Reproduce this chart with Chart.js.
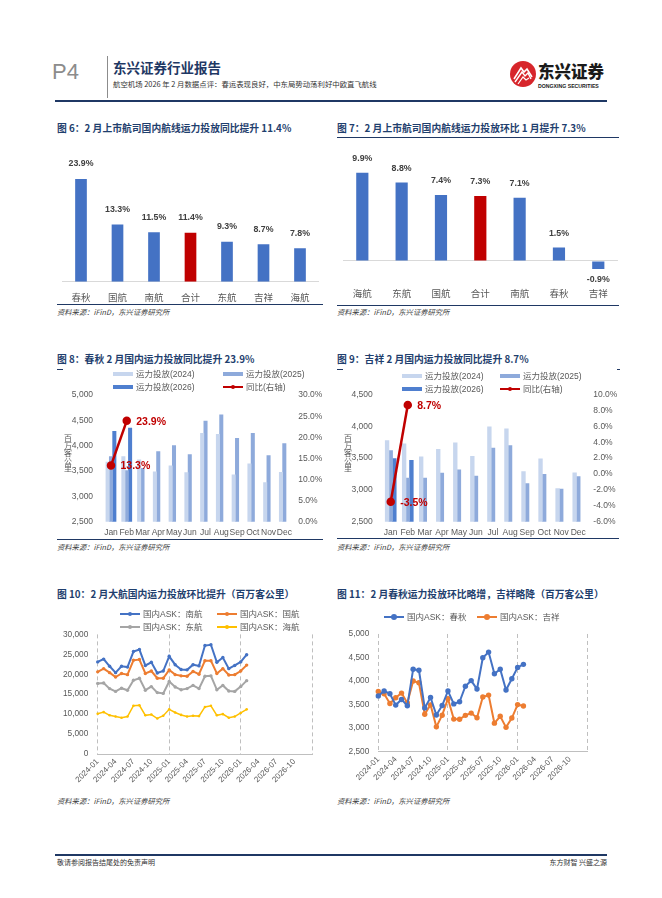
<!DOCTYPE html>
<html>
<head>
<meta charset="utf-8">
<script src="https://cdn.jsdelivr.net/npm/chart.js@4.4.1/dist/chart.umd.min.js"></script>
<style>
  body { margin: 0; background: #fff; }
  #page { position: relative; width: 662px; height: 898px; overflow: hidden; font-family: "Noto Sans CJK SC", sans-serif; }
  .abs { position: absolute; white-space: nowrap; }
  .ttl { font-size: 9.8px; font-weight: bold; color: #1f3f6e; line-height: 12px; }
  .src { font-size: 7.3px; font-style: italic; color: #404040; line-height: 10px; }
  .rule { position: absolute; background: #1f3864; height: 1px; }
  .box { position: absolute; }
  .lgt { position: absolute; font-family: "Liberation Sans", "Noto Sans CJK SC", sans-serif; font-size: 8.5px; color: #595959; line-height: 10px; white-space: nowrap; }
  .vt { position: absolute; font-size: 8px; color: #595959; line-height: 7.6px; width: 10px; text-align: center; }
</style>
</head>
<body>
<div id="page">
  <!-- header -->
  <div class="abs" style="left:52px;top:60px;font-family:'Liberation Sans',sans-serif;font-size:22px;line-height:24px;color:#8c8c8c;">P4</div>
  <div class="abs" style="left:107px;top:56px;width:1px;height:42px;background:#8c8c8c;"></div>
  <div class="abs" style="left:113px;top:59px;font-size:13.5px;line-height:16px;font-weight:bold;color:#1f3864;">东兴证券行业报告</div>
  <div class="abs" style="left:113px;top:79px;font-size:7.4px;line-height:10px;color:#333;">航空机场 2026 年 2 月数据点评：春运表现良好，中东局势动荡利好中欧直飞航线</div>
  <svg class="abs" style="left:509px;top:60px;" width="28" height="28" viewBox="0 0 28 28">
    <circle cx="14" cy="14" r="13" fill="#d7262b"/>
    <path d="M5 19 L12 8 L15 12 L18 9 L23 17" stroke="#fff" stroke-width="1.6" fill="none"/>
    <path d="M6 22 L13 12 L16 16 L19 13 L22 19" stroke="#fff" stroke-width="1.4" fill="none"/>
    <path d="M9 24 L14 17 L17 20 L20 18" stroke="#fff" stroke-width="1.2" fill="none"/>
  </svg>
  <div class="abs" style="left:538px;top:62px;font-size:16.5px;line-height:18px;font-weight:900;color:#1a1a1a;">东兴证券</div>
  <div class="abs" style="left:538px;top:83px;font-family:'Liberation Sans',sans-serif;font-size:5.2px;line-height:7px;font-weight:bold;color:#1a1a1a;">DONGXING SECURITIES</div>
  <div class="abs" style="left:55px;top:100px;width:552px;height:2px;background:#1f3864;"></div>

  <!-- titles -->
  <div class="abs ttl" style="left:57px;top:122px;">图 6：2 月上市航司国内航线运力投放同比提升 11.4%</div>
  <div class="abs ttl" style="left:337px;top:122px;">图 7：2 月上市航司国内航线运力投放环比 1 月提升 7.3%</div>
  <div class="rule" style="left:337px;top:137px;width:282px;"></div>
  <div class="rule" style="left:57px;top:304px;width:266px;"></div>
  <div class="rule" style="left:337px;top:305px;width:282px;"></div>
  <div class="abs src" style="left:57px;top:307px;">资料来源：iFinD，东兴证券研究所</div>
  <div class="abs src" style="left:337px;top:307px;">资料来源：iFinD，东兴证券研究所</div>

  <div class="abs ttl" style="left:57px;top:353px;">图 8：春秋 2 月国内运力投放同比提升 23.9%</div>
  <div class="abs ttl" style="left:337px;top:353px;">图 9：吉祥 2 月国内运力投放同比提升 8.7%</div>
  <div class="rule" style="left:57px;top:369px;width:6px;"></div>
  <div class="rule" style="left:337px;top:369px;width:6px;"></div>
  <div class="rule" style="left:617px;top:369px;width:3px;"></div>
  <div class="rule" style="left:57px;top:539px;width:266px;"></div>
  <div class="rule" style="left:337px;top:538px;width:282px;"></div>
  <div class="abs src" style="left:57px;top:542px;">资料来源：iFinD，东兴证券研究所</div>
  <div class="abs src" style="left:337px;top:542px;">资料来源：iFinD，东兴证券研究所</div>

  <div class="abs ttl" style="left:57px;top:588px;">图 10：2 月大航国内运力投放环比提升（百万客公里）</div>
  <div class="abs ttl" style="left:337px;top:588px;">图 11：2 月春秋运力投放环比略增，吉祥略降（百万客公里）</div>
  <div class="abs src" style="left:57px;top:796px;">资料来源：iFinD，东兴证券研究所</div>
  <div class="abs src" style="left:337px;top:796px;">资料来源：iFinD，东兴证券研究所</div>

  <!-- chart boxes -->
  <div class="box" style="left:57px;top:140px;width:265px;height:165px;"><canvas id="c6"></canvas></div>
  <div class="box" style="left:337px;top:140px;width:282px;height:165px;"><canvas id="c7"></canvas></div>
  <div class="box" style="left:57px;top:380px;width:265px;height:160px;"><canvas id="c8"></canvas></div>
  <div class="box" style="left:337px;top:380px;width:282px;height:160px;"><canvas id="c9"></canvas></div>
  <div class="box" style="left:57px;top:620px;width:265px;height:180px;"><canvas id="c10"></canvas></div>
  <div class="box" style="left:337px;top:620px;width:282px;height:180px;"><canvas id="c11"></canvas></div>

  <div class="vt" style="left:63px;top:434px;">百<br>万<br>客<br>公<br>里</div>
  <div class="vt" style="left:343px;top:434px;">百<br>万<br>客<br>公<br>里</div>

  <!-- footer -->
  <div class="abs" style="left:55px;top:854px;width:552px;height:1.5px;background:#1f3864;"></div>
  <div class="abs" style="left:57px;top:858px;font-size:7px;line-height:9px;color:#333;">敬请参阅报告结尾处的免责声明</div>
  <div class="abs" style="right:55px;top:858px;font-size:7px;line-height:9px;color:#333;">东方财智 兴盛之源</div>
</div>

<script>
// ---- data ----
const airlines6 = ['春秋', '国航', '南航', '合计', '东航', '吉祥', '海航'];
const yoy6 = [23.9, 13.3, 11.5, 11.4, 9.3, 8.7, 7.8];

const airlines7 = ['海航', '东航', '国航', '合计', '南航', '春秋', '吉祥'];
const mom7 = [9.9, 8.8, 7.4, 7.3, 7.1, 1.5, -0.9];

const months = ['Jan', 'Feb', 'Mar', 'Apr', 'May', 'Jun', 'Jul', 'Aug', 'Sep', 'Oct', 'Nov', 'Dec'];

// 春秋 domestic ASK (百万客公里)
const spring2024 = [3685, 3790, 3730, 3490, 3610, 3475, 4250, 4230, 3430, 3650, 3280, 3480];
const spring2025 = [3790, 3515, 3560, 3890, 4010, 3830, 4495, 4615, 4155, 4250, 3810, 4050];
const spring2026 = [4290, 4355];
const springYoy = [13.3, 23.9];

// 吉祥 domestic ASK
const juneyao2024 = [3780, 3730, 3525, 3645, 3745, 3535, 4000, 3965, 3295, 3495, 3028, 3275];
const juneyao2025 = [3625, 3192, 3190, 3272, 3320, 3222, 3662, 3702, 3106, 3252, 3017, 3215];
const juneyao2026 = [3500, 3470];
const juneyaoYoy = [-3.5, 8.7];

// big three + 海航, 2024-01 .. 2026-02
const csaAsk = [23100, 23800, 22000, 20400, 22000, 21800, 25700, 26200, 22200, 23000, 20300, 20800,
                24500, 22400, 21200, 21100, 22400, 22100, 27200, 27400, 23000, 24200, 21400, 22200,
                23100, 24900];
const airChinaAsk = [20600, 21400, 20400, 19300, 20200, 19900, 23500, 23700, 20200, 20800, 19000, 19000,
                     21100, 19900, 19600, 19500, 20700, 20000, 23400, 23400, 20200, 21400, 19800, 19900,
                     20800, 22300];
const easternAsk = [17700, 17800, 16400, 15700, 16500, 16000, 18500, 19000, 16000, 16900, 15400, 15200,
                    18200, 16800, 16100, 16400, 17200, 16400, 19500, 19600, 16100, 17200, 15800, 15700,
                    16900, 18400];
const hainanAsk = [10100, 10500, 9700, 9400, 9100, 9400, 12100, 12200, 9700, 9900, 8900, 9600,
                   11200, 10400, 9800, 9400, 9600, 9500, 11800, 12100, 9700, 10000, 9100, 9400,
                   10300, 11200];

// monthly axis 2024-01 .. 2027-01
const monthAxis = [];
['2024', '2025', '2026'].forEach(y => {
  for (let m = 1; m <= 12; m++) monthAxis.push(y + '-' + String(m).padStart(2, '0'));
});
monthAxis.push('2027-01');

// ---- colours ----
const BLUE = '#4472c4', RED = '#c00000', ORANGE = '#ed7d31', GREY = '#a5a5a5', GOLD = '#ffc000';
const C24 = '#c7d6ee', C25 = '#8eaadb', C26 = '#4f7fcf';
const LATIN = '"Liberation Sans", "Noto Sans CJK SC", sans-serif';
const CJK = '"Noto Sans CJK SC", sans-serif';

Chart.defaults.font.family = LATIN;
Chart.defaults.color = '#595959';
Chart.defaults.animation = false;
Chart.defaults.plugins.legend.display = false;
Chart.defaults.plugins.tooltip.enabled = false;

// draws value labels for given datasets
function valueLabels(specs) {
  return {
    id: 'valueLabels',
    afterDatasetsDraw(chart) {
      const ctx = chart.ctx;
      specs.forEach(s => {
        const meta = chart.getDatasetMeta(s.dataset);
        const data = chart.data.datasets[s.dataset].data;
        ctx.save();
        ctx.font = s.font;
        ctx.fillStyle = s.color;
        ctx.textAlign = s.align || 'center';
        ctx.textBaseline = 'middle';
        meta.data.forEach((el, i) => {
          const v = data[i];
          if (v == null) return;
          const p = s.place(el, v);
          ctx.fillText(v.toFixed(1) + '%', p.x, p.y);
        });
        ctx.restore();
      });
    }
  };
}

// html legend entries
function legendItem(x, y, kind, color, text) {
  const page = document.getElementById('page');
  const sw = document.createElement('div');
  sw.style.position = 'absolute';
  if (kind === 'bar') {
    sw.style.cssText += `left:${x}px;top:${y - 2}px;width:20px;height:4px;background:${color};`;
    page.appendChild(sw);
  } else {
    sw.style.cssText += `left:${x}px;top:${y - 1}px;width:20px;height:2px;background:${color};`;
    page.appendChild(sw);
    const dot = document.createElement('div');
    const r = kind === 'bigdot' ? 3 : 2;
    dot.style.cssText = `position:absolute;left:${x + 10 - r}px;top:${y - r}px;width:${2 * r}px;height:${2 * r}px;border-radius:50%;background:${color};`;
    page.appendChild(dot);
  }
  const t = document.createElement('div');
  t.className = 'lgt';
  t.style.left = (x + 23) + 'px';
  t.style.top = (y - 5) + 'px';
  t.textContent = text;
  page.appendChild(t);
}

const fmtThousands = v => Number(v).toLocaleString('en-US');

// ---- 图6 ----
new Chart(document.getElementById('c6'), {
  type: 'bar',
  data: {
    labels: airlines6,
    datasets: [{
      data: yoy6,
      backgroundColor: airlines6.map(a => a === '合计' ? RED : BLUE),
      barPercentage: 0.32,
      categoryPercentage: 1
    }]
  },
  options: {
    responsive: true,
    maintainAspectRatio: false,
    layout: { padding: { left: 5.75, right: 3.75, top: 12.7, bottom: 0 } },
    scales: {
      x: {
        grid: { display: false, drawTicks: false },
        border: { color: '#d9d9d9' },
        ticks: { padding: 9.6, font: { size: 9.5, family: CJK } },
        afterFit(s) { s.height = 23.3; }
      },
      y: { display: false, min: 0, max: 30 }
    }
  },
  plugins: [valueLabels([{ dataset: 0, font: 'bold 8.8px ' + LATIN, color: '#404040', place: (el) => ({ x: el.x, y: el.y - 15 }) }])]
});

// ---- 图7 ----
new Chart(document.getElementById('c7'), {
  type: 'bar',
  data: {
    labels: airlines7,
    datasets: [{
      data: mom7,
      backgroundColor: airlines7.map(a => a === '合计' ? RED : BLUE),
      barPercentage: 0.31,
      categoryPercentage: 1
    }]
  },
  options: {
    responsive: true,
    maintainAspectRatio: false,
    layout: { padding: { left: 5.65, right: 1.05, top: 14, bottom: 0 } },
    scales: {
      x: {
        grid: { display: false, drawTicks: false },
        border: { display: false },
        ticks: { padding: 9.1, font: { size: 9.5, family: CJK } },
        afterFit(s) { s.height = 26.2; }
      },
      y: {
        min: -2, max: 12,
        ticks: { display: false, stepSize: 1 },
        grid: { drawTicks: false, color: c => c.tick.value === 0 ? '#d9d9d9' : 'rgba(0,0,0,0)' },
        border: { display: false },
        afterFit(s) { s.width = 0; }
      }
    }
  },
  plugins: [valueLabels([{ dataset: 0, font: 'bold 8.8px ' + LATIN, color: '#404040',
    place: (el, v) => ({ x: el.x, y: v >= 0 ? el.y - 14.4 : el.y + 10.7 }) }])]
});

// ---- 图8 / 图9 (shared layout) ----
function yearBars(id, y2024, y2025, y2026, yoy, yMin, yMax, y2Min, y2Max, y2Step, leftW, rightW, leftPad, rightPad) {
  const barCommon = { categoryPercentage: 0.64, barPercentage: 1.2, order: 1, yAxisID: 'y' };
  return new Chart(document.getElementById(id), {
    type: 'bar',
    data: {
      labels: months,
      datasets: [
        Object.assign({ label: '运力投放(2024)', data: y2024, backgroundColor: C24 }, barCommon),
        Object.assign({ label: '运力投放(2025)', data: y2025, backgroundColor: C25 }, barCommon),
        Object.assign({ label: '运力投放(2026)', data: y2026, backgroundColor: C26 }, barCommon),
        {
          type: 'line', label: '同比(右轴)', data: yoy, yAxisID: 'y2', order: 0,
          borderColor: RED, borderWidth: 2.5, pointRadius: 3,
          pointBackgroundColor: RED, pointBorderColor: RED
        }
      ]
    },
    options: {
      responsive: true,
      maintainAspectRatio: false,
      layout: { padding: { left: 0, right: 0, top: 8.3, bottom: 0 } },
      scales: {
        x: {
          grid: { display: false, drawTicks: false },
          border: { display: false },
          ticks: { padding: 5.5, font: { size: 8.5 }, autoSkip: false, maxRotation: 0, minRotation: 0 },
          afterFit(s) { s.height = 18.3; }
        },
        y: {
          position: 'left', min: yMin, max: yMax,
          ticks: { stepSize: 500, padding: leftPad, font: { size: 8.5 }, callback: fmtThousands },
          grid: { display: false, drawTicks: false },
          border: { display: false },
          afterFit(s) { s.width = leftW; }
        },
        y2: {
          position: 'right', min: y2Min, max: y2Max,
          ticks: { stepSize: y2Step, padding: rightPad, font: { size: 8.5 }, callback: v => v.toFixed(1) + '%' },
          grid: { display: false, drawTicks: false },
          border: { display: false },
          afterFit(s) { s.width = rightW; }
        }
      }
    },
    plugins: [valueLabels([{ dataset: 3, font: 'bold 10.5px ' + LATIN, color: RED, align: 'left',
      place: (el) => ({ x: el.x + 9.5, y: el.y + 1 }) }])]
  });
}

yearBars('c8', spring2024, spring2025, spring2026, springYoy, 2500, 5000, 0, 30, 5, 46.1, 29.8, 10, 6);
yearBars('c9', juneyao2024, juneyao2025, juneyao2026, juneyaoYoy, 2500, 4500, -6, 10, 2, 45.2, 32.2, 9.5, 6.5);

legendItem(113, 374.3, 'bar', C24, '运力投放(2024)');
legendItem(223, 374.3, 'bar', C25, '运力投放(2025)');
legendItem(113, 386.7, 'bar', C26, '运力投放(2026)');
legendItem(223, 386.7, 'dot', RED, '同比(右轴)');

legendItem(402, 376, 'bar', C24, '运力投放(2024)');
legendItem(500, 376, 'bar', C25, '运力投放(2025)');
legendItem(402, 389, 'bar', C26, '运力投放(2026)');
legendItem(500, 389, 'dot', RED, '同比(右轴)');

// ---- 图10 / 图11 (monthly lines) ----
function monthAxisX(height) {
  return {
    offset: false,
    grid: {
      drawTicks: false,
      color: c => [0, 12, 24, 36].includes(c.index) ? '#bfbfbf' : 'rgba(0,0,0,0)'
    },
    border: { display: true, color: '#bfbfbf', dash: [4, 3] },
    ticks: {
      autoSkip: false, maxRotation: 45, minRotation: 45, padding: 3,
      font: { size: 8 },
      callback: (v, i) => (i % 3 === 0 && i < 36) ? monthAxis[i] : ''
    },
    afterFit(s) { s.height = height; }
  };
}

function lineSet(label, data, color, width, radius) {
  return {
    label, data, borderColor: color, backgroundColor: color, borderWidth: width,
    pointRadius: radius, pointBackgroundColor: color, pointBorderColor: color, pointBorderWidth: 0
  };
}

new Chart(document.getElementById('c10'), {
  type: 'line',
  data: {
    labels: monthAxis,
    datasets: [
      lineSet('国内ASK：南航', csaAsk, BLUE, 2, 1.7),
      lineSet('国内ASK：国航', airChinaAsk, ORANGE, 2, 1.7),
      lineSet('国内ASK：东航', easternAsk, GREY, 2, 1.7),
      lineSet('国内ASK：海航', hainanAsk, GOLD, 1.5, 1.3)
    ]
  },
  options: {
    responsive: true,
    maintainAspectRatio: false,
    layout: { padding: { left: 0, right: 5.3, top: 5.7, bottom: 0 } },
    scales: {
      x: monthAxisX(46),
      y: {
        min: 0, max: 30000,
        ticks: { stepSize: 5000, padding: 9.4, font: { size: 8.3 }, callback: fmtThousands },
        grid: { display: false, drawTicks: false },
        border: { display: false },
        afterFit(s) { s.width = 40.7; }
      }
    }
  }
});

new Chart(document.getElementById('c11'), {
  type: 'line',
  data: {
    labels: monthAxis,
    datasets: [
      lineSet('国内ASK：春秋', spring2024.concat(spring2025, spring2026), BLUE, 2, 2.7),
      lineSet('国内ASK：吉祥', juneyao2024.concat(juneyao2025, juneyao2026), ORANGE, 2, 2.7)
    ]
  },
  options: {
    responsive: true,
    maintainAspectRatio: false,
    layout: { padding: { left: 0, right: 31.7, top: 6, bottom: 0 } },
    scales: {
      x: monthAxisX(48.3),
      y: {
        min: 2500, max: 5000,
        ticks: { stepSize: 500, padding: 9, font: { size: 8.3 }, callback: fmtThousands },
        grid: { display: false, drawTicks: false },
        border: { display: false },
        afterFit(s) { s.width = 41.3; }
      }
    }
  }
});

legendItem(120, 614.3, 'dot', BLUE, '国内ASK：南航');
legendItem(217, 614.3, 'dot', ORANGE, '国内ASK：国航');
legendItem(120, 627.3, 'dot', GREY, '国内ASK：东航');
legendItem(217, 627.3, 'dot', GOLD, '国内ASK：海航');

legendItem(384, 617.3, 'bigdot', BLUE, '国内ASK：春秋');
legendItem(477, 617.3, 'bigdot', ORANGE, '国内ASK：吉祥');
</script>
</body>
</html>
